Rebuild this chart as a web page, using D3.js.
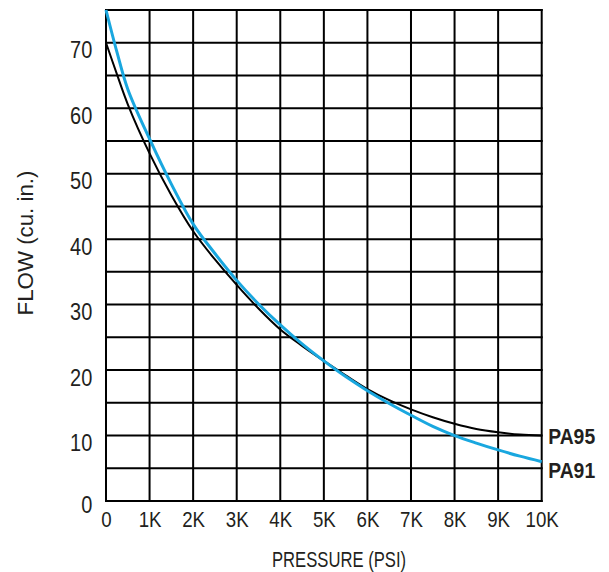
<!DOCTYPE html>
<html>
<head>
<meta charset="utf-8">
<script src="https://cdn.jsdelivr.net/npm/d3@7"></script>
<style>
	body { margin: 0; background: #fff; }
	text { font-family: 'Liberation Sans', Arial, sans-serif; fill: #231f20; }
</style>
</head>
<body>
<div id="chart"></div>
<script>
'use strict';

// pressure in thousands of psi
var pressure = [0, 0.25, 0.5, 1, 1.5, 2, 2.5, 3, 3.5, 4, 4.5, 5, 5.5, 6, 6.5, 7, 7.5, 8, 8.5, 9, 9.5, 10];
var pa95 = [70, 65.2, 60.6, 53.1, 46.7, 41.2, 36.9, 33.0, 29.4, 26.2, 23.7, 21.4, 19.2, 17.1, 15.4, 14.0, 12.8, 11.8, 11.0, 10.5, 10.15, 10.0];
var pa91 = [75, 68.6, 62.9, 55.3, 48.4, 42.3, 37.8, 33.7, 30.1, 26.9, 24.0, 21.4, 19.0, 16.85, 14.9, 13.1, 11.4, 10.0, 8.85, 7.8, 6.85, 6.0];
var seriesNames = ['PA95', 'PA91'];
var xTicks = [0, 1, 2, 3, 4, 5, 6, 7, 8, 9, 10];
var yTicks = [0, 10, 20, 30, 40, 50, 60, 70];

var width = 609, height = 572;
var margin = { top: 10, right: 67.3, bottom: 71, left: 106 };

var svg = d3.select('#chart')
	.append('svg')
	.attr('width', width)
	.attr('height', height);

var x = d3.scaleLinear()
	.domain([0, 10])
	.range([margin.left, width - margin.right]);

var y = d3.scaleLinear()
	.domain([0, 75])
	.range([height - margin.bottom, margin.top]);

// the original face is a condensed sans, so narrow the text around its own x
function condense(k) {
	return function (sel) {
		sel.each(function () {
			var t = d3.select(this);
			var tx = +t.attr('x') || 0;
			var ty = +t.attr('y') || 0;
			t.attr('x', 0).attr('y', 0)
				.attr('transform', 'translate(' + tx + ',' + ty + ') scale(' + k + ',1)');
		});
	};
}

// grid
var grid = svg.append('g').attr('class', 'grid');

grid.selectAll('line.v')
	.data(d3.range(0, 11, 1))
	.enter()
	.append('line')
	.attr('class', 'v')
	.attr('x1', function (d) { return x(d); })
	.attr('x2', function (d) { return x(d); })
	.attr('y1', y(0) + 1)
	.attr('y2', y(75) - 1)
	.attr('stroke', '#000')
	.attr('stroke-width', 2);

grid.selectAll('line.h')
	.data(d3.range(0, 76, 5))
	.enter()
	.append('line')
	.attr('class', 'h')
	.attr('x1', x(0) - 1)
	.attr('x2', x(10) + 1)
	.attr('y1', function (d) { return y(d); })
	.attr('y2', function (d) { return y(d); })
	.attr('stroke', '#000')
	.attr('stroke-width', 2);

// tick labels
var xAxis = d3.axisBottom(x)
	.tickValues(xTicks)
	.tickSize(0)
	.tickFormat(function (d) { return d === 0 ? '0' : d + 'K'; });

var gx = svg.append('g')
	.attr('transform', 'translate(0,' + y(0) + ')')
	.call(xAxis);
gx.select('.domain').remove();
gx.selectAll('text')
	.attr('font-size', 22)
	.attr('font-family', null)
	.attr('fill', '#231f20')
	.attr('dy', null)
	.attr('y', 25.7)
	.call(condense(0.85));

var yAxis = d3.axisLeft(y)
	.tickValues(yTicks)
	.tickSize(0);

var gy = svg.append('g')
	.attr('transform', 'translate(' + x(0) + ',0)')
	.call(yAxis);
gy.select('.domain').remove();
gy.selectAll('text')
	.attr('font-size', 23.5)
	.attr('font-family', null)
	.attr('fill', '#231f20')
	.attr('dy', null)
	.attr('x', -13.7)
	.attr('y', function (d) { return d === 0 ? 11.3 : 15; })
	.call(condense(0.85));

// axis titles
svg.append('text')
	.attr('x', 339)
	.attr('y', 567)
	.attr('text-anchor', 'middle')
	.attr('font-size', 22.5)
	.text('PRESSURE (PSI)')
	.call(condense(0.74));

svg.append('text')
	.attr('transform', 'translate(33,243) rotate(-90) scale(0.97,1)')
	.attr('text-anchor', 'middle')
	.attr('font-size', 23)
	.text('FLOW (cu. in.)');

// curves
var line = d3.line()
	.x(function (d) { return x(d[0]); })
	.y(function (d) { return y(d[1]); })
	.curve(d3.curveCatmullRom.alpha(0.5));

var series = [
	{ name: seriesNames[0], values: d3.zip(pressure, pa95), color: '#000', w: 2, dy: 8.5 },
	{ name: seriesNames[1], values: d3.zip(pressure, pa91), color: '#19a7df', w: 3, dy: 16.3 }
];

svg.append('g')
	.selectAll('path')
	.data(series)
	.enter()
	.append('path')
	.attr('d', function (d) { return line(d.values); })
	.attr('fill', 'none')
	.attr('stroke', function (d) { return d.color; })
	.attr('stroke-width', function (d) { return d.w; });

svg.append('g')
	.selectAll('text')
	.data(series)
	.enter()
	.append('text')
	.attr('x', x(10) + 6.5)
	.attr('y', function (d) { return y(d.values[d.values.length - 1][1]) + d.dy; })
	.attr('font-size', 22.5)
	.attr('font-weight', 'bold')
	.text(function (d) { return d.name; })
	.call(condense(0.86));
</script>
</body>
</html>
